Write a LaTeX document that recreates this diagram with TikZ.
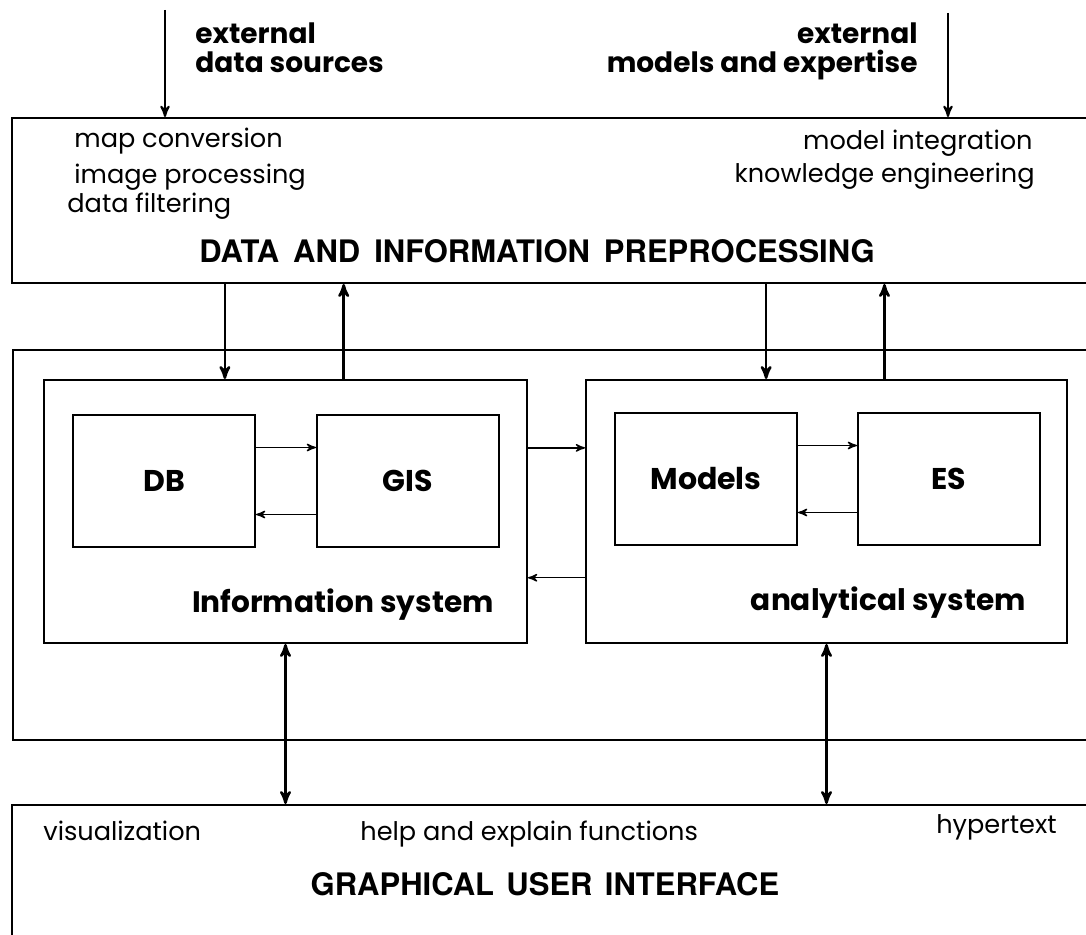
\documentclass[tikz,border=0pt]{standalone}
\usepackage{fontspec}
\setmainfont{Poppins}
\newfontfamily\capsfont{TeX Gyre Heros}
\usetikzlibrary{shapes,arrows,calc,positioning,fit}
\tikzstyle{panel} = [rectangle, draw, line width=1pt, inner sep=0pt]
\tikzstyle{block} = [rectangle, draw, line width=1pt, minimum width=91pt, minimum height=66pt,
font=\bfseries\fontsize{15}{17}\selectfont]
\tikzstyle{note} = [inner sep=0pt, font=\fontsize{12.8}{14}\selectfont]
\tikzstyle{source} = [inner sep=0pt, font=\bfseries\fontsize{14}{14.5}\selectfont]
\tikzstyle{caption} = [inner sep=0pt, font=\bfseries\fontsize{14.8}{16}\selectfont]
\tikzstyle{heading} = [inner sep=0pt, font=\capsfont\bfseries\fontsize{15.5}{17}\selectfont]
\tikzstyle{line} = [draw, -stealth', line width=1.25pt]
\tikzstyle{thinline} = [draw, -stealth', line width=0.7pt]
\tikzstyle{both} = [draw, stealth'-stealth', line width=1.25pt]

\begin{document}
\begin{tikzpicture}[x=0.5pt, y=-0.5pt, node distance = 30pt]
\useasboundingbox (0,0) rectangle (1086,935);
\clip (0,0) rectangle (1086,935);

% outer panels
\node [panel, fit={(12,118) (1100,283)}] (prep) {};
\node [panel, fit={(13,350) (1100,740)}] (core) {};
\node [panel, fit={(12,805) (1100,960)}] (gui) {};

% the two systems
\node [panel, fit={(44,380) (527,643)}] (info) {};
\node [panel, fit={(586,380) (1067,643)}] (ana) {};
\node [block] (db) at (164,481) {DB};
\node [block, right = of db] (gis) {GIS};
\node [block] (models) at (706,479) {Models};
\node [block, right = 29.5pt of models] (es) {ES};
\node [caption, anchor=base east] (infotext) at (494,612) {Information system};
\node [caption, anchor=base east] (anatext) at (1026,610) {analytical system};

% texts
\node [source, anchor=north west, align=left] (datasrc) at (195,22) {external\\data sources};
\node [source, anchor=north east, align=right] (modelsrc) at (918,22) {external\\models and expertise};
\node [note, anchor=base west] (mapconv) at (74,148) {map conversion};
\node [note, anchor=base west] (imgproc) at (74,184) {image processing};
\node [note, anchor=base west] (filter) at (67,213) {data filtering};
\node [note, anchor=base east] (modint) at (1033,150) {model integration};
\node [note, anchor=base east] (knoweng) at (1035,183) {knowledge engineering};
\node [heading, anchor=base] (preptitle) at (537,263) {DATA\hspace{0.45em}AND\hspace{0.45em}INFORMATION\hspace{0.45em}PREPROCESSING};
\node [note, anchor=base west] (vis) at (43,840) {visualization};
\node [note, anchor=base west] (help) at (360,840) {help and explain functions};
\node [note, anchor=base east] (hyper) at (1057,833) {hypertext};
\node [heading, anchor=base] (guititle) at (545,895) {GRAPHICAL\hspace{0.4em}USER\hspace{0.4em}INTERFACE};

\coordinate (src1) at (165,10);
\coordinate (src2) at (948,13);
\coordinate (i1) at ($(info.north west)!0.375!(info.north east)$);
\coordinate (i2) at ($(info.north west)!0.62!(info.north east)$);
\coordinate (a1) at ($(ana.north west)!0.375!(ana.north east)$);
\coordinate (a2) at ($(ana.north west)!0.62!(ana.north east)$);

\path [line, line width=1pt] (src1) -- (src1 |- prep.north);
\path [line, line width=1pt] (src2) -- (src2 |- prep.north);
\path [line] (i1 |- prep.south) -- (i1);
\path [line] (i2) -- (i2 |- prep.south);
\path [line] (a1 |- prep.south) -- (a1);
\path [line] (a2) -- (a2 |- prep.south);

\path [thinline] ($(db.north east)!0.25!(db.south east)$) -- ($(gis.north west)!0.25!(gis.south west)$);
\path [thinline] ($(gis.north west)!0.75!(gis.south west)$) -- ($(db.north east)!0.75!(db.south east)$);
\path [thinline] ($(models.north east)!0.25!(models.south east)$) -- ($(es.north west)!0.25!(es.south west)$);
\path [thinline] ($(es.north west)!0.75!(es.south west)$) -- ($(models.north east)!0.75!(models.south east)$);
\path [thinline] ($(info.north east)!0.26!(info.south east)$) -- ($(ana.north west)!0.26!(ana.south west)$);
\path [thinline] ($(ana.north west)!0.75!(ana.south west)$) -- ($(info.north east)!0.75!(info.south east)$);

\path [both] (info.south) -- (info.south |- gui.north);
\path [both] (ana.south) -- (ana.south |- gui.north);
\end{tikzpicture}
\end{document}
